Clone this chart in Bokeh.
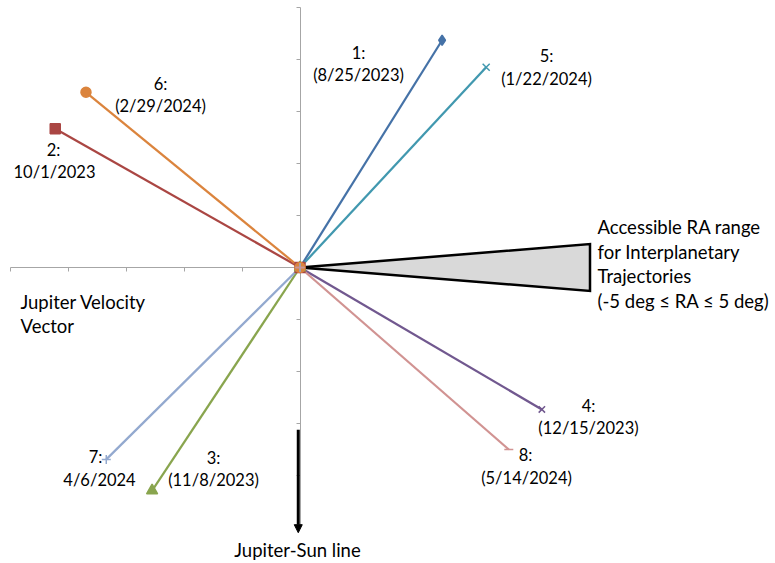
from bokeh.plotting import figure
from bokeh.models import Range1d, LinearAxis, FixedTicker, Arrow, NormalHead
from bokeh.core.properties import value
from bokeh.embed import file_html
from bokeh.resources import INLINE

# ---- data ----
series_num = ["1", "2", "3", "4", "5", "6", "7", "8"]
series_date = ["(8/25/2023)", "10/1/2023", "(11/8/2023)", "(12/15/2023)",
               "(1/22/2024)", "(2/29/2024)", "4/6/2024", "(5/14/2024)"]
vec_x = [2.45, -4.22, -2.55, 4.17, 3.21, -3.69, -3.34, 3.60]
vec_y = [4.37, 2.67, -4.29, -2.73, 3.85, 3.37, -3.69, -3.50]
colors = ["#4572A7", "#AA4643", "#89A54E", "#71588F",
          "#4198AF", "#DB843D", "#93A9CF", "#D19392"]
markers = ["diamond", "square", "triangle", "x", "x", "circle", "cross", "dash"]
marker_sizes = [10, 10, 11, 9, 10, 10, 9, 9]
axis_ticks = [-5, -4, -3, -2, -1, 0, 1, 2, 3, 4, 5]
ra_x = [0, 5, 5]
ra_y = [0, 0.45, -0.45]
sun_line_y = [-3.12, -5.1]
sun_line_x = -0.03

# ---- layout helpers (page pixel -> data) ----
W, H = 775, 563
OFF = 0
CX, CY, SX, SY = 299.5 - OFF, 267.0 - OFF, 58.0, 52.0


def u(px):
    return (px - OFF - CX) / SX


def v(py):
    return (CY - (py - OFF)) / SY


p = figure(width=W, height=H, output_backend="svg", toolbar_location=None,
           x_range=Range1d(-CX / SX, (W - CX) / SX),
           y_range=Range1d((CY - H) / SY, CY / SY),
           x_axis_location=None, y_axis_location=None,
           min_border=0, background_fill_color="white")
p.outline_line_color = None
p.grid.visible = False

axis_color = "#A6A6A6"
xa = LinearAxis(fixed_location=0, bounds=(-5, 5), ticker=FixedTicker(ticks=axis_ticks),
                axis_line_color=axis_color, major_tick_line_color=axis_color,
                major_tick_in=0, major_tick_out=4, minor_tick_line_color=None,
                major_label_text_alpha=0, major_label_text_font_size="1px",
                level="underlay")
ya = LinearAxis(fixed_location=0, bounds=(-5, 5), ticker=FixedTicker(ticks=axis_ticks),
                axis_line_color=axis_color, major_tick_line_color=axis_color,
                major_tick_in=0, major_tick_out=4, minor_tick_line_color=None,
                major_label_text_alpha=0, major_label_text_font_size="1px",
                level="underlay")
p.add_layout(xa, "below")
p.add_layout(ya, "left")

# accessible RA triangle
p.patch(ra_x, ra_y, fill_color="#D9D9D9", line_color="black", line_width=2.5,
        line_join="miter")

# vectors
for i in range(len(vec_x)):
    p.line([0, vec_x[i]], [0, vec_y[i]], line_color=colors[i], line_width=2.25)
for i in range(len(vec_x)):
    p.scatter([0, vec_x[i]], [0, vec_y[i]], marker=markers[i], size=marker_sizes[i],
              fill_color=colors[i], line_color=colors[i], line_width=1.5)

# Jupiter-Sun arrow
p.add_layout(Arrow(end=NormalHead(size=8, fill_color="black", line_color="black"),
                   x_start=sun_line_x, y_start=sun_line_y[0],
                   x_end=sun_line_x, y_end=sun_line_y[1],
                   line_color="black", line_width=3))

font = value("Lato")
fs = "16.5px"
fs_box = "18.5px"

# series labels (page positions of label centres)
num_pos = [(358, 52), (53, 149), (213, 457), (588, 405),
           (546, 55), (160, 83), (95, 456), (525, 454)]
date_pos = [(358, 74), (54, 171), (213, 479), (588, 427),
            (546, 78), (160, 105), (99, 479), (526, 477)]
p.text([u(a) for a, b in num_pos], [v(b) for a, b in num_pos],
       text=[s + ":" for s in series_num], text_font=font, text_font_size=fs,
       text_align="center", text_baseline="middle", text_color="black")
p.text([u(a) for a, b in date_pos], [v(b) for a, b in date_pos],
       text=series_date, text_font=font, text_font_size=fs,
       text_align="center", text_baseline="middle", text_color="black")

ra_lines = ["Accessible RA range", "for Interplanetary", "Trajectories",
            "(-5 deg \u2264 RA \u2264 5 deg)"]
p.text([u(597)] * 4, [v(226), v(251), v(275), v(300)], text=ra_lines,
       text_font=font, text_font_size=fs_box, text_align="left",
       text_baseline="middle", text_color="black")

p.text([u(20)] * 2, [v(301), v(325)], text=["Jupiter Velocity", "Vector"],
       text_font=font, text_font_size=fs_box, text_align="left",
       text_baseline="middle", text_color="black")

p.text([u(297)], [v(549)], text=["Jupiter-Sun line"], text_font=font,
       text_font_size=fs_box, text_align="center", text_baseline="middle",
       text_color="black")

open("out.html", "w").write(file_html(p, INLINE))
